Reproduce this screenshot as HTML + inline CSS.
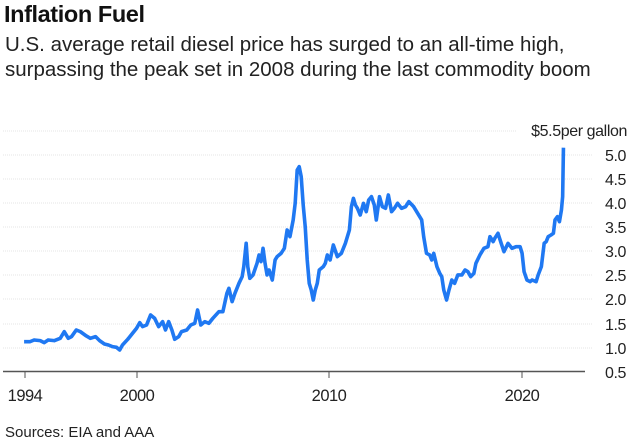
<!DOCTYPE html>
<html><head><meta charset="utf-8"><style>
body{margin:0;background:#fff;width:630px;height:446px;overflow:hidden;font-family:"Liberation Sans",Arial,sans-serif;color:#111}
.t{position:absolute;left:4px;top:1px;font-size:23.5px;font-weight:bold;letter-spacing:-0.4px}
.s{position:absolute;left:5px;top:32px;font-size:20.5px;line-height:25px;color:#222;letter-spacing:0px}
.src{position:absolute;left:5px;top:424px;font-size:15px;color:#222}
</style></head><body>
<div class="t">Inflation Fuel</div>
<div class="s">U.S. average retail diesel price has surged to an all-time high,<br>surpassing the peak set in 2008 during the last commodity boom</div>
<svg width="630" height="446" style="position:absolute;left:0;top:0">
<g stroke="#e4e4e4" stroke-width="1" stroke-dasharray="1,1">
<line x1="3" x2="517" y1="131" y2="131"/>
<line x1="3" x2="592" y1="155" y2="155"/><line x1="3" x2="592" y1="179" y2="179"/>
<line x1="3" x2="592" y1="203" y2="203"/><line x1="3" x2="592" y1="227" y2="227"/>
<line x1="3" x2="592" y1="251" y2="251"/><line x1="3" x2="592" y1="275" y2="275"/>
<line x1="3" x2="592" y1="299" y2="299"/><line x1="3" x2="592" y1="324" y2="324"/>
<line x1="3" x2="592" y1="348" y2="348"/>
</g>
<line x1="3" x2="585" y1="371.5" y2="371.5" stroke="#555" stroke-width="1.5"/>
<g stroke="#555" stroke-width="1"><line x1="25" x2="25" y1="372" y2="378"/><line x1="137" x2="137" y1="372" y2="378"/><line x1="329" x2="329" y1="372" y2="378"/><line x1="522" x2="522" y1="372" y2="378"/></g>
<g font-size="16.5" fill="#222" text-anchor="middle" letter-spacing="-0.5"><text x="25" y="401">1994</text><text x="137" y="401">2000</text><text x="329" y="401">2010</text><text x="522" y="401">2020</text></g>
<g font-size="16" fill="#222" text-anchor="end" letter-spacing="-0.4"><text x="627" y="136">$5.5per gallon</text>
<text x="626" y="161">5.0</text><text x="626" y="185">4.5</text><text x="626" y="209">4.0</text><text x="626" y="233">3.5</text><text x="626" y="257">3.0</text><text x="626" y="281">2.5</text><text x="626" y="305">2.0</text><text x="626" y="330">1.5</text><text x="626" y="354">1.0</text><text x="626" y="378">0.5</text></g>
<g transform="translate(0,120) scale(0.4016,0.3333)">
<polyline fill="none" stroke="#1f78f2" stroke-width="3.6" stroke-linejoin="round" vector-effect="non-scaling-stroke" points="60,665 75,665 85,660 100,662 110,668 120,660 135,662 150,655 160,635 170,655 178,650 190,630 200,635 215,648 225,655 238,650 248,662 260,672 270,675 280,680 290,682 298,690 305,675 318,658 330,640 340,625 348,608 355,620 365,615 375,585 385,595 395,620 405,605 412,630 420,605 428,630 435,658 445,650 452,635 465,630 475,615 485,610 492,570 500,615 510,605 520,610 530,595 545,575 555,575 565,520 570,505 578,545 585,520 595,490 603,470 607,440 613,370 617,440 622,475 630,465 640,430 645,405 650,425 655,385 660,430 665,465 670,450 678,480 685,420 690,410 700,400 708,385 715,330 722,350 730,300 735,250 740,150 745,140 750,170 755,255 760,320 765,420 770,490 775,510 780,540 785,510 790,490 795,450 805,440 810,430 815,405 822,420 830,375 840,410 850,400 860,370 870,330 875,260 880,235 885,255 890,265 897,285 905,250 912,275 918,240 925,230 932,255 937,300 945,230 952,260 960,265 967,225 975,275 982,265 990,250 1000,265 1010,260 1018,245 1030,260 1040,280 1050,300 1055,350 1062,400 1070,405 1075,420 1080,400 1088,440 1095,460 1100,470 1105,510 1112,540 1118,510 1125,480 1132,490 1140,465 1150,465 1158,450 1165,455 1172,470 1180,460 1185,430 1195,405 1205,385 1215,380 1220,350 1228,365 1232,355 1240,340 1248,370 1255,395 1265,370 1275,385 1285,380 1295,380 1300,400 1305,455 1312,480 1320,485 1325,480 1335,485 1340,465 1348,440 1355,370 1360,365 1365,350 1372,345 1378,340 1382,300 1388,290 1393,305 1398,270 1401,230 1403,83"/>
</g>
</svg>
<div class="src">Sources: EIA and AAA</div>
</body></html>
